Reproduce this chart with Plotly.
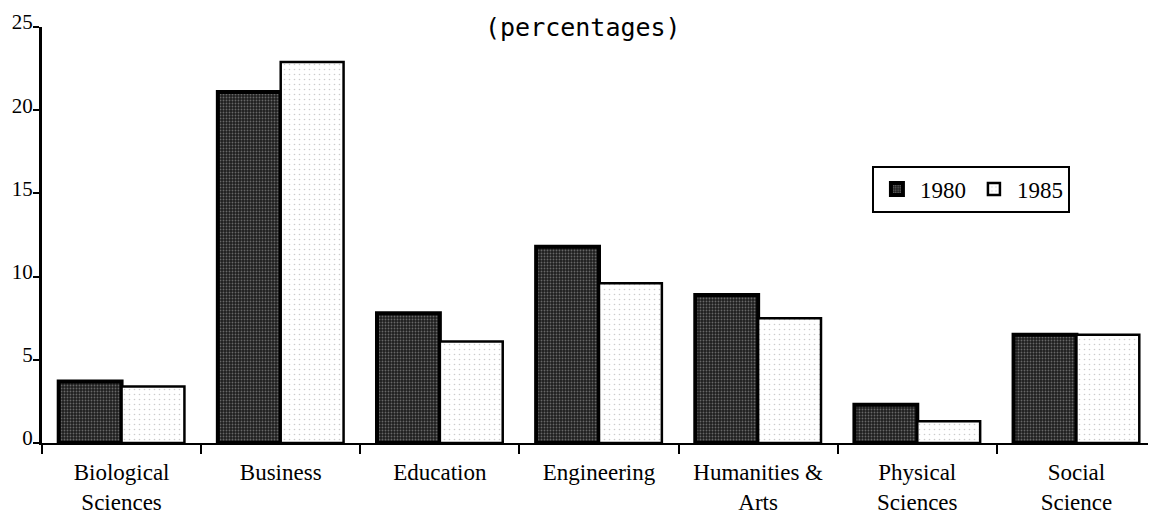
import plotly.graph_objects as go

categories = ["Biological<br>Sciences", "Business", "Education", "Engineering",
              "Humanities &<br>Arts", "Physical<br>Sciences", "Social<br>Science"]
values_1980 = [3.7, 21.1, 7.8, 11.8, 8.9, 2.3, 6.5]
values_1985 = [3.4, 22.9, 6.1, 9.6, 7.5, 1.3, 6.5]
y_ticks = [0, 5, 10, 15, 20, 25]
title_text = "(percentages)"

serif = "Liberation Serif, Times New Roman, serif"

fig = go.Figure()
fig.add_trace(go.Bar(
    x=categories, y=values_1980, name="1980",
    marker=dict(
        color="#333333",
        line=dict(color="black", width=4),
        pattern=dict(shape=".", bgcolor="#1e1e1e", fgcolor="#b0b0b0", size=3, solidity=0.3),
    ),
))
fig.add_trace(go.Bar(
    x=categories, y=values_1985, name="1985",
    marker=dict(
        color="white",
        line=dict(color="black", width=2.5),
        pattern=dict(shape=".", bgcolor="white", fgcolor="#9a9a9a", size=5, solidity=0.08),
    ),
))

fig.update_layout(
    width=1156, height=516,
    margin=dict(l=34, r=8, t=19, b=81, autoexpand=False),
    paper_bgcolor="white", plot_bgcolor="white",
    barmode="group", bargap=0.21, bargroupgap=0.0,
    font=dict(family=serif, size=22, color="black"),
    showlegend=True,
    legend=dict(
        orientation="h", x=0.745, y=0.667, xanchor="left", yanchor="top",
        bordercolor="black", borderwidth=2, bgcolor="white",
        font=dict(family=serif, size=23, color="black"),
        itemwidth=36, traceorder="normal",
    ),
    annotations=[dict(
        text=title_text, xref="paper", yref="paper", x=0.486, y=0.9976,
        xanchor="center", yanchor="middle", showarrow=False,
        font=dict(family="DejaVu Sans Mono, monospace", size=25, color="black"),
    )],
)
fig.update_xaxes(
    range=[-0.5, 6.5], showline=True, linecolor="black", linewidth=2,
    ticks="outside", ticklen=9, tickwidth=2, tickcolor="black",
    tickson="boundaries", showgrid=False, zeroline=False, automargin=False,
    ticklabelstandoff=7,
    tickfont=dict(family=serif, size=23, color="black"),
)
fig.update_yaxes(
    range=[0, 25], tickvals=y_ticks, showline=True, linecolor="black", linewidth=3,
    ticks="outside", ticklen=6, tickwidth=2, tickcolor="black",
    showgrid=False, zeroline=False, automargin=False,
    ticklabelstandoff=-4, ticklabelshift=-5,
    tickfont=dict(family=serif, size=21, color="black"),
)

fig.write_html("out.html")
